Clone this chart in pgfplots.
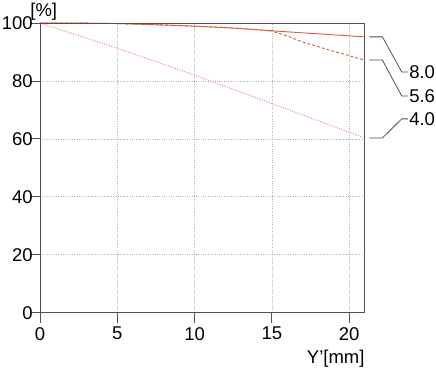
\documentclass[border=0pt]{standalone}
\usepackage{pgfplots}
\pgfplotsset{compat=1.18}
\usepackage{fontspec}
\setmainfont{Liberation Sans}
\definecolor{redl}{HTML}{DC5A3C}
\definecolor{pinkl}{HTML}{E88F7C}
\definecolor{gridc}{HTML}{B4B4B4}
\definecolor{axc}{HTML}{505050}
\newcommand\f{\fontsize{18.5bp}{22bp}\selectfont}
\begin{document}
\begin{tikzpicture}[x=1bp,y=1bp]
\begin{axis}[
  scale only axis,
  width=325bp, height=290bp,
  xmin=0, xmax=21, ymin=0, ymax=100,
  xtick={0,5,10,15,20}, ytick={0,20,40,60,80,100},
  xtick pos=bottom, ytick pos=left,
  grid=major,
  major grid style={gridc, dash pattern=on 1bp off 1.3bp, line width=0.6pt},
  axis line style={axc, line width=0.8pt},
  tick style={axc, line width=0.8pt},
  tick align=outside, major tick length=10bp,
  tick label style={font=\f, text=black},
  /pgf/number format/assume math mode=true,
  xticklabel style={yshift=-1bp},
  yticklabel style={xshift=4bp, inner sep=1bp},
  clip=false,
  axis on top,
]
\addplot[redl, line width=0.9pt] coordinates {(0,100) (2,100) (5,99.8) (8,99.3) (10,98.9) (12,98.4) (14,97.7) (15,97.3) (17,96.6) (19,95.9) (21,95.2)};
\addplot[redl, line width=0.9pt, dash pattern=on 3bp off 2bp] coordinates {(0,100) (2,100) (5,99.8) (8,99.3) (10,98.9) (12,98.4) (14,97.7) (15,97.2) (16,95.5) (17,93.4) (18,91.8) (19,90.2) (20,88.7) (21,87.2)};
\addplot[pinkl, line width=1pt, dash pattern=on 1bp off 1.5bp] coordinates {(0,100) (5,91.3) (10,82) (15,72.2) (21,60.3)};
\draw[axc, line width=0.8pt] (axis cs:21.3,95.2) -- (axis cs:22.15,95.2) -- (axis cs:23.4,83.1) -- (axis cs:23.8,83.1) node[anchor=west, inner sep=1bp, font=\f, text=black] {8.0};
\draw[axc, line width=0.8pt] (axis cs:21.3,87.2) -- (axis cs:22.15,87.2) -- (axis cs:23.4,74.8) -- (axis cs:23.8,74.8) node[anchor=west, inner sep=1bp, font=\f, text=black] {5.6};
\draw[axc, line width=0.8pt] (axis cs:21.3,60.3) -- (axis cs:22.15,60.3) -- (axis cs:23.4,66.9) -- (axis cs:23.8,66.9) node[anchor=west, inner sep=1bp, font=\f, text=black] {4.0};
\node[anchor=south west, font=\f, inner sep=0pt] at (rel axis cs:-0.03,1.01) {[\%]};
\node[anchor=north east, font=\f, inner sep=0pt] at (rel axis cs:1,-0.13) {Y'[mm]};
\end{axis}
\path (current axis.south west) ++(-40,-63) rectangle ++(436,376);
\end{tikzpicture}
\end{document}
